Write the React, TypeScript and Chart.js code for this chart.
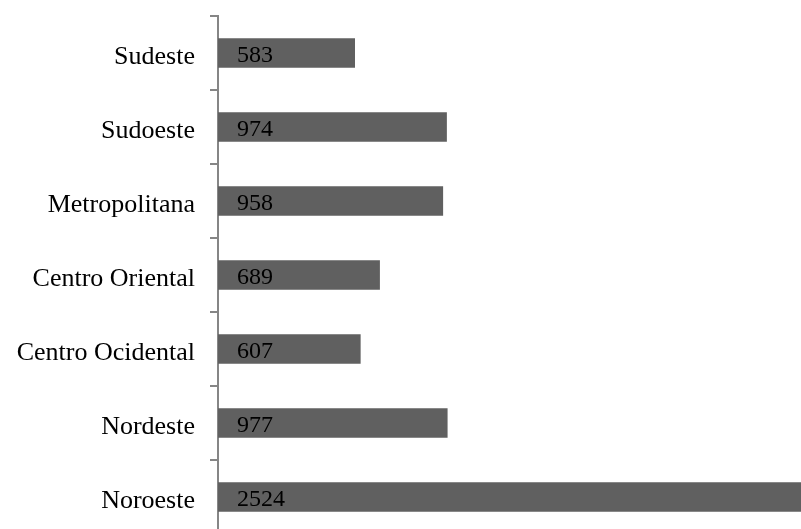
import React, { useEffect, useRef } from "react";
import { Chart, registerables } from "chart.js";

Chart.register(...registerables);

const categories = [
  "Sudeste",
  "Sudoeste",
  "Metropolitana",
  "Centro Oriental",
  "Centro Ocidental",
  "Nordeste",
  "Noroeste",
];
const values = [583, 974, 958, 689, 607, 977, 2524];
const xMax = 2481;

const FONT = "'Liberation Serif', 'Times New Roman', serif";

const valueLabels = {
  id: "valueLabels",
  afterDatasetsDraw(chart: any) {
    const ctx = chart.ctx;
    const meta = chart.getDatasetMeta(0);
    const x0 = chart.scales.x.getPixelForValue(0);
    ctx.save();
    ctx.font = `24px ${FONT}`;
    ctx.fillStyle = "#000000";
    ctx.textAlign = "left";
    ctx.textBaseline = "middle";
    meta.data.forEach((bar: any, i: number) => {
      ctx.fillText(String(values[i]), x0 + 19, bar.y + 3);
    });
    ctx.restore();
  },
};

export default function App() {
  const ref = useRef<HTMLCanvasElement>(null);
  useEffect(() => {
    if (!ref.current) return;
    const chart = new Chart(ref.current, {
      type: "bar",
      data: {
        labels: categories,
        datasets: [
          {
            data: values,
            backgroundColor: "#606060",
            borderWidth: 0,
            categoryPercentage: 1,
            barPercentage: 0.4,
          },
        ],
      },
      options: {
        indexAxis: "y",
        animation: false,
        responsive: false,
        layout: { padding: { top: 16, bottom: 11, left: 0, right: 0 } },
        plugins: { legend: { display: false }, tooltip: { enabled: false } },
        scales: {
          x: { display: false, min: 0, max: xMax },
          y: {
            offset: true,
            border: { display: true, color: "#868686", width: 2 },
            grid: {
              display: true,
              offset: true,
              drawOnChartArea: false,
              drawTicks: true,
              tickLength: 8,
              color: "#868686",
              lineWidth: 2,
            },
            ticks: {
              color: "#000000",
              padding: 15,
              labelOffset: 4,
              font: { family: FONT, size: 26 },
            },
            afterFit(scale: any) {
              scale.width = 218;
              scale.paddingTop = 0;
              scale.paddingBottom = 0;
            },
          },
        },
      },
      plugins: [valueLabels],
    } as any);
    return () => chart.destroy();
  }, []);
  return (
    <div
      style={{
        position: "fixed",
        top: 0,
        left: 0,
        width: 801,
        height: 529,
        overflow: "hidden",
        background: "#ffffff",
      }}
    >
      <canvas ref={ref} width={801} height={545} style={{ width: 801, height: 545, display: "block" }} />
    </div>
  );
}
